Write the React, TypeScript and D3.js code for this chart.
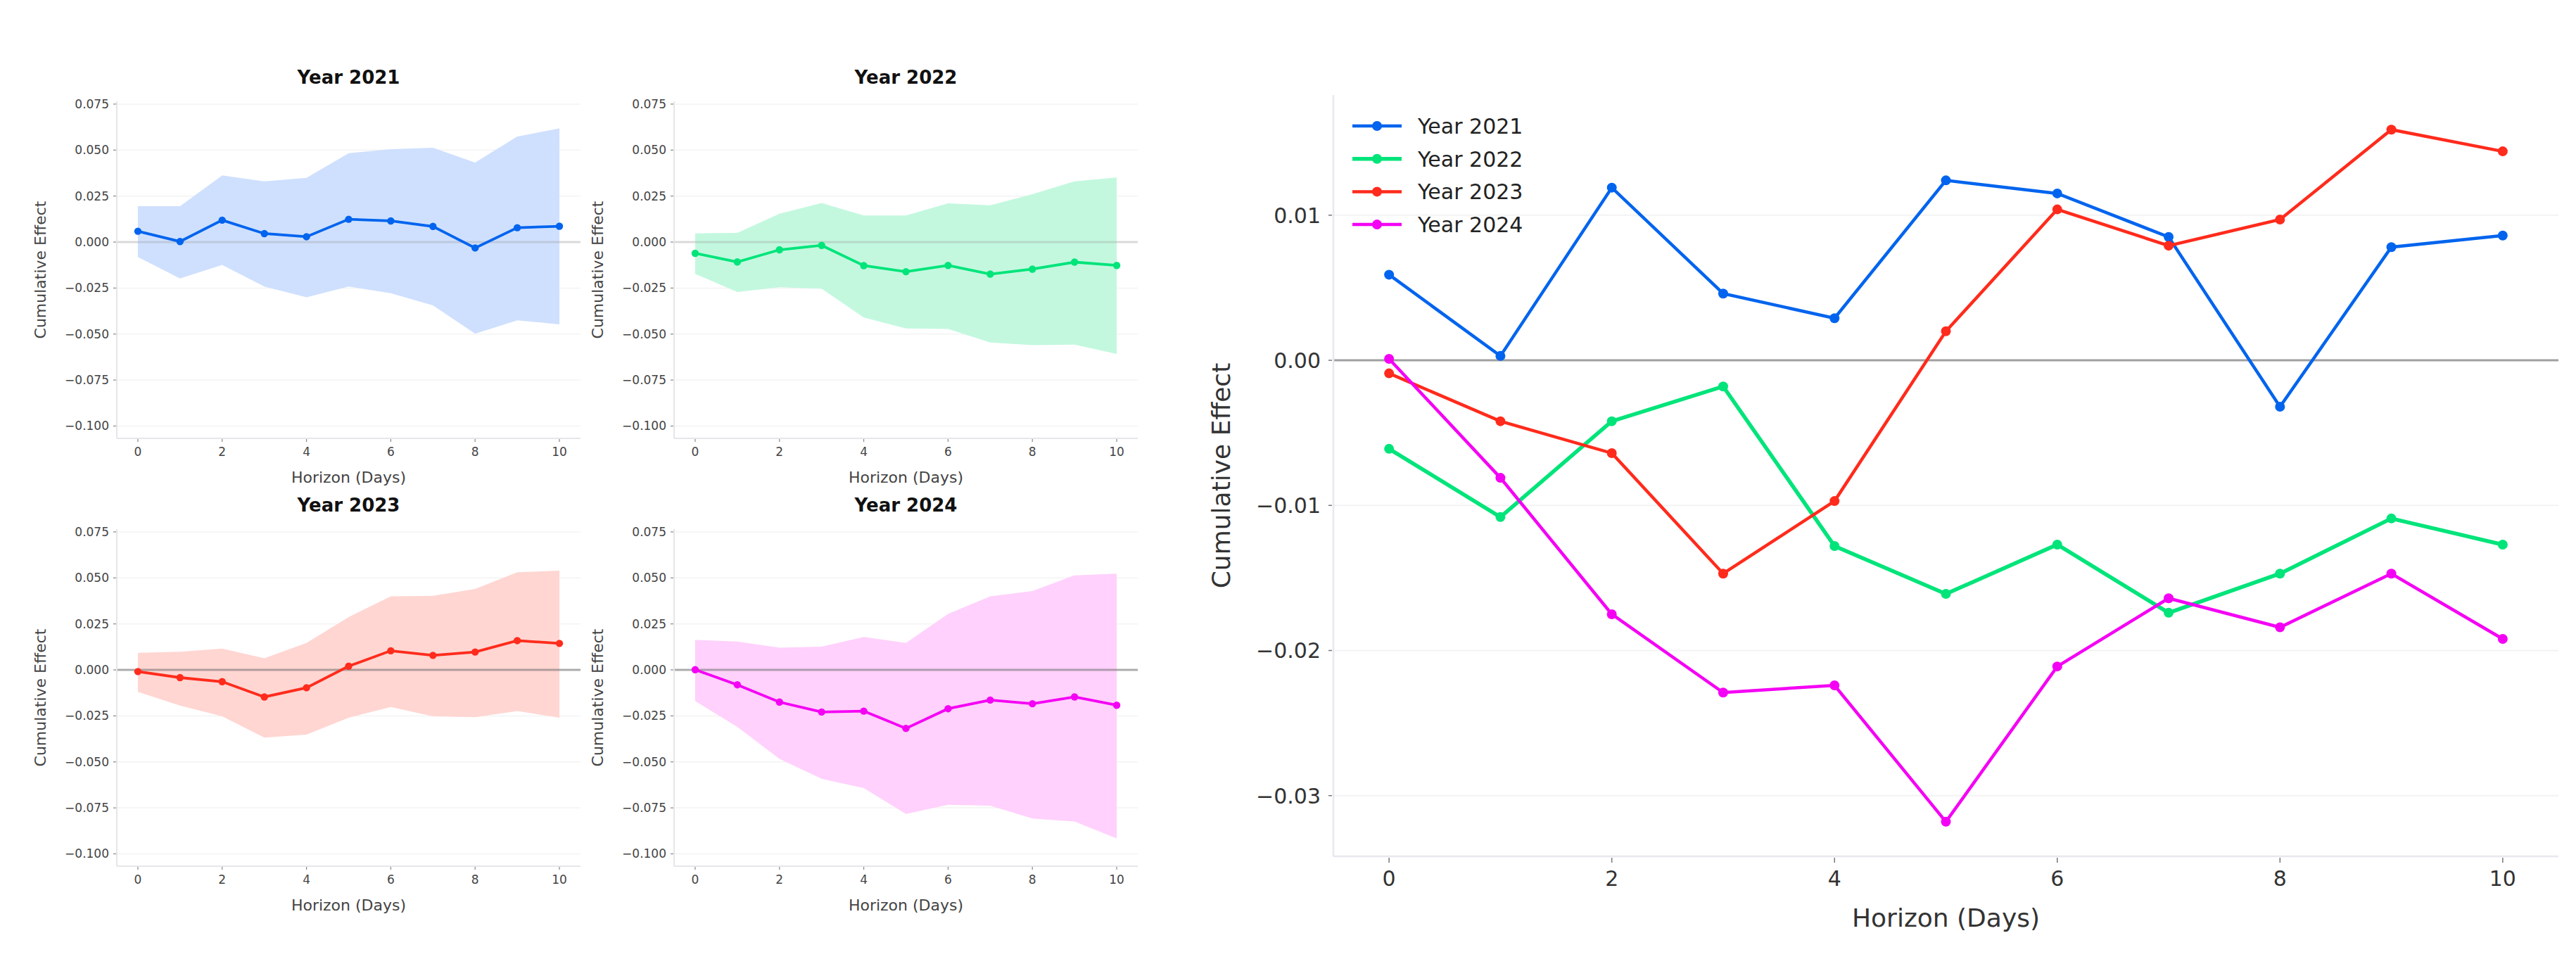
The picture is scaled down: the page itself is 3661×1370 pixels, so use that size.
import React from "react";
import * as d3 from "d3";

// ---------- data ----------
const horizons = [0, 1, 2, 3, 4, 5, 6, 7, 8, 9, 10];
const years = ["Year 2021", "Year 2022", "Year 2023", "Year 2024"];
const colors = ["#0064ee", "#00e47a", "#ff2b1c", "#f400f4"];
const bandColors = ["#cfe0fe", "#c3f8df", "#ffd6d2", "#ffd1fc"];

const mean2021 = [0.0059, 0.0003, 0.0119, 0.0046, 0.0029, 0.0124, 0.0115, 0.0085, -0.0032, 0.0078, 0.0086];
const mean2022 = [-0.0061, -0.0108, -0.0042, -0.0018, -0.0128, -0.0161, -0.0127, -0.0174, -0.0147, -0.0109, -0.0127];
const mean2023 = [-0.0009, -0.0042, -0.0064, -0.0147, -0.0097, 0.002, 0.0104, 0.0079, 0.0097, 0.0159, 0.0144];
const mean2024 = [0.0001, -0.0081, -0.0175, -0.0229, -0.0224, -0.0318, -0.0211, -0.0164, -0.0184, -0.0147, -0.0192];

const upper2021 = [0.0195, 0.0195, 0.0362, 0.033, 0.0349, 0.0483, 0.0505, 0.0513, 0.0432, 0.0574, 0.0618];
const lower2021 = [-0.0081, -0.0198, -0.0124, -0.0242, -0.03, -0.0242, -0.0278, -0.0344, -0.0498, -0.0425, -0.0447];
const upper2022 = [0.0047, 0.005, 0.0154, 0.0212, 0.0144, 0.0144, 0.021, 0.02, 0.026, 0.033, 0.0351];
const lower2022 = [-0.0173, -0.0271, -0.0246, -0.0253, -0.041, -0.0469, -0.0472, -0.0546, -0.056, -0.0557, -0.0608];
const upper2023 = [0.0093, 0.0099, 0.0116, 0.0063, 0.0146, 0.0287, 0.04, 0.0403, 0.044, 0.0531, 0.0539];
const lower2023 = [-0.0119, -0.0194, -0.0252, -0.0368, -0.0352, -0.026, -0.0202, -0.0252, -0.0257, -0.0224, -0.026];
const upper2024 = [0.0163, 0.0154, 0.0121, 0.0126, 0.0179, 0.0146, 0.0304, 0.04, 0.0428, 0.0514, 0.0523];
const lower2024 = [-0.0169, -0.031, -0.0484, -0.0592, -0.0642, -0.0783, -0.0733, -0.0738, -0.0808, -0.0824, -0.0916];

const means = [mean2021, mean2022, mean2023, mean2024];
const uppers = [upper2021, upper2022, upper2023, upper2024];
const lowers = [lower2021, lower2022, lower2023, lower2024];

const smallYTicks = [0.075, 0.05, 0.025, 0, -0.025, -0.05, -0.075, -0.1];
const smallYDomain = [-0.1067, 0.0765];
const xTicks = [0, 2, 4, 6, 8, 10];
const bigYTicks = [0.01, 0, -0.01, -0.02, -0.03];

const xLabel = "Horizon (Days)";
const yLabel = "Cumulative Effect";

const FONT = "'DejaVu Sans', 'Noto Sans', sans-serif";
const fmt3 = (v: number) => d3.format(".3f")(v).replace("-", "\u2212");
const fmt2 = (v: number) => d3.format(".2f")(v).replace("-", "\u2212");

// ---------- small panel ----------
function SmallPanel({ idx, left, top }: { idx: number; left: number; top: number }) {
  const W = 659;
  const H = 479;
  const x = d3.scaleLinear().domain([-0.5, 10.5]).range([left, left + W]);
  const y = d3.scaleLinear().domain(smallYDomain).range([top + H, top]);
  const mean = means[idx];
  const pts = horizons.map((h, i) => ({ h, m: mean[i], u: uppers[idx][i], l: lowers[idx][i] }));
  const area = d3
    .area<any>()
    .x((d) => x(d.h))
    .y0((d) => y(d.l))
    .y1((d) => y(d.u));
  const line = d3
    .line<any>()
    .x((d) => x(d.h))
    .y((d) => y(d.m));
  const bottomRow = idx >= 2;
  return (
    <g>
      {smallYTicks.map((t) => (
        <line key={"g" + t} x1={left} x2={left + W} y1={y(t)} y2={y(t)} stroke="#f3f3f3" strokeWidth={1.5} />
      ))}
      <path d={area(pts) || ""} fill={bandColors[idx]} />
      <line
        x1={left}
        x2={left + W}
        y1={y(0)}
        y2={y(0)}
        stroke={bottomRow ? "rgba(110,110,110,0.55)" : "rgba(150,150,150,0.3)"}
        strokeWidth={3}
      />
      <path d={line(pts) || ""} fill="none" stroke={colors[idx]} strokeWidth={3.8} />
      {pts.map((d) => (
        <circle key={d.h} cx={x(d.h)} cy={y(d.m)} r={5.2} fill={colors[idx]} />
      ))}
      {/* spines */}
      <line x1={left} x2={left} y1={top} y2={top + H} stroke="#e6e6ea" strokeWidth={2} />
      <line x1={left} x2={left + W} y1={top + H} y2={top + H} stroke="#e6e6ea" strokeWidth={2} />
      {smallYTicks.map((t) => (
        <g key={"yt" + t}>
          <line x1={left - 5} x2={left - 1} y1={y(t)} y2={y(t)} stroke="#888" strokeWidth={1.2} />
          <text x={left - 11} y={y(t) + 6} textAnchor="end" fontSize={17} fill="#444" fontFamily={FONT}>
            {fmt3(t)}
          </text>
        </g>
      ))}
      {xTicks.map((t) => (
        <g key={"xt" + t}>
          <line x1={x(t)} x2={x(t)} y1={top + H + 1} y2={top + H + 5} stroke="#888" strokeWidth={1.2} />
          <text x={x(t)} y={top + H + 25} textAnchor="middle" fontSize={17} fill="#444" fontFamily={FONT}>
            {t}
          </text>
        </g>
      ))}
      <text
        x={left + W / 2}
        y={top + H + 63}
        textAnchor="middle"
        fontSize={22}
        fill="#444"
        fontFamily={FONT}
      >
        {xLabel}
      </text>
      <text
        transform={`translate(${left - 101}, ${top + H / 2}) rotate(-90)`}
        textAnchor="middle"
        fontSize={22}
        fill="#444"
        fontFamily={FONT}
      >
        {yLabel}
      </text>
      <text
        x={left + W / 2}
        y={top - 25}
        textAnchor="middle"
        fontSize={26}
        fontWeight="bold"
        fill="#111"
        fontFamily={FONT}
      >
        {years[idx]}
      </text>
    </g>
  );
}

// ---------- big chart ----------
function BigChart() {
  const left = 1895;
  const right = 3636;
  const top = 135;
  const bottom = 1217;
  const all = means.flat();
  const [mn, mx] = d3.extent(all) as [number, number];
  const pad = (mx - mn) * 0.05;
  const x = d3.scaleLinear().domain([-0.5, 10.5]).range([left, right]);
  const y = d3.scaleLinear().domain([mn - pad, mx + pad]).range([bottom, top]);
  const line = d3
    .line<number>()
    .x((_, i) => x(horizons[i]))
    .y((d) => y(d));
  return (
    <g>
      {bigYTicks.map((t) => (
        <line key={"g" + t} x1={left} x2={right} y1={y(t)} y2={y(t)} stroke="#f3f3f3" strokeWidth={2} />
      ))}
      <line x1={left} x2={right} y1={y(0)} y2={y(0)} stroke="#a0a0a0" strokeWidth={3} />
      {means.map((m, k) => (
        <g key={k}>
          <path d={line(m) || ""} fill="none" stroke={colors[k]} strokeWidth={k === 1 ? 5.5 : 4.5} />
          {m.map((v, i) => (
            <circle key={i} cx={x(horizons[i])} cy={y(v)} r={7} fill={colors[k]} />
          ))}
        </g>
      ))}
      <line x1={left} x2={left} y1={top} y2={bottom} stroke="#e8e8ee" strokeWidth={2.5} />
      <line x1={left} x2={right} y1={bottom} y2={bottom} stroke="#e8e8ee" strokeWidth={2.5} />
      {bigYTicks.map((t) => (
        <g key={"yt" + t}>
          <line x1={left - 7} x2={left - 2} y1={y(t)} y2={y(t)} stroke="#777" strokeWidth={1.5} />
          <text x={left - 18} y={y(t) + 11} textAnchor="end" fontSize={30} fill="#333" fontFamily={FONT}>
            {fmt2(t)}
          </text>
        </g>
      ))}
      {xTicks.map((t) => (
        <g key={"xt" + t}>
          <line x1={x(t)} x2={x(t)} y1={bottom + 2} y2={bottom + 9} stroke="#777" strokeWidth={1.5} />
          <text x={x(t)} y={bottom + 42} textAnchor="middle" fontSize={30} fill="#333" fontFamily={FONT}>
            {t}
          </text>
        </g>
      ))}
      <text x={(left + right) / 2} y={bottom + 100} textAnchor="middle" fontSize={36} fill="#333" fontFamily={FONT}>
        {xLabel}
      </text>
      <text
        transform={`translate(${left - 147}, ${(top + bottom) / 2}) rotate(-90)`}
        textAnchor="middle"
        fontSize={36}
        fill="#333"
        fontFamily={FONT}
      >
        {yLabel}
      </text>
      {years.map((name, k) => {
        const ly = 179 + k * 46.7;
        return (
          <g key={name}>
            <line x1={1922} x2={1992} y1={ly} y2={ly} stroke={colors[k]} strokeWidth={k === 1 ? 5.5 : 4.5} />
            <circle cx={1957} cy={ly} r={7} fill={colors[k]} />
            <text x={2015} y={ly + 11} fontSize={30} fill="#222" fontFamily={FONT}>
              {name}
            </text>
          </g>
        );
      })}
    </g>
  );
}

export default function App() {
  return (
    <svg
      width={3661}
      height={1370}
      style={{ position: "absolute", left: 0, top: 0, background: "#fff", display: "block" }}
    >
      <rect x={0} y={0} width={3661} height={1370} fill="#fff" />
      <SmallPanel idx={0} left={166} top={144} />
      <SmallPanel idx={1} left={958} top={144} />
      <SmallPanel idx={2} left={166} top={752} />
      <SmallPanel idx={3} left={958} top={752} />
      <BigChart />
    </svg>
  );
}
